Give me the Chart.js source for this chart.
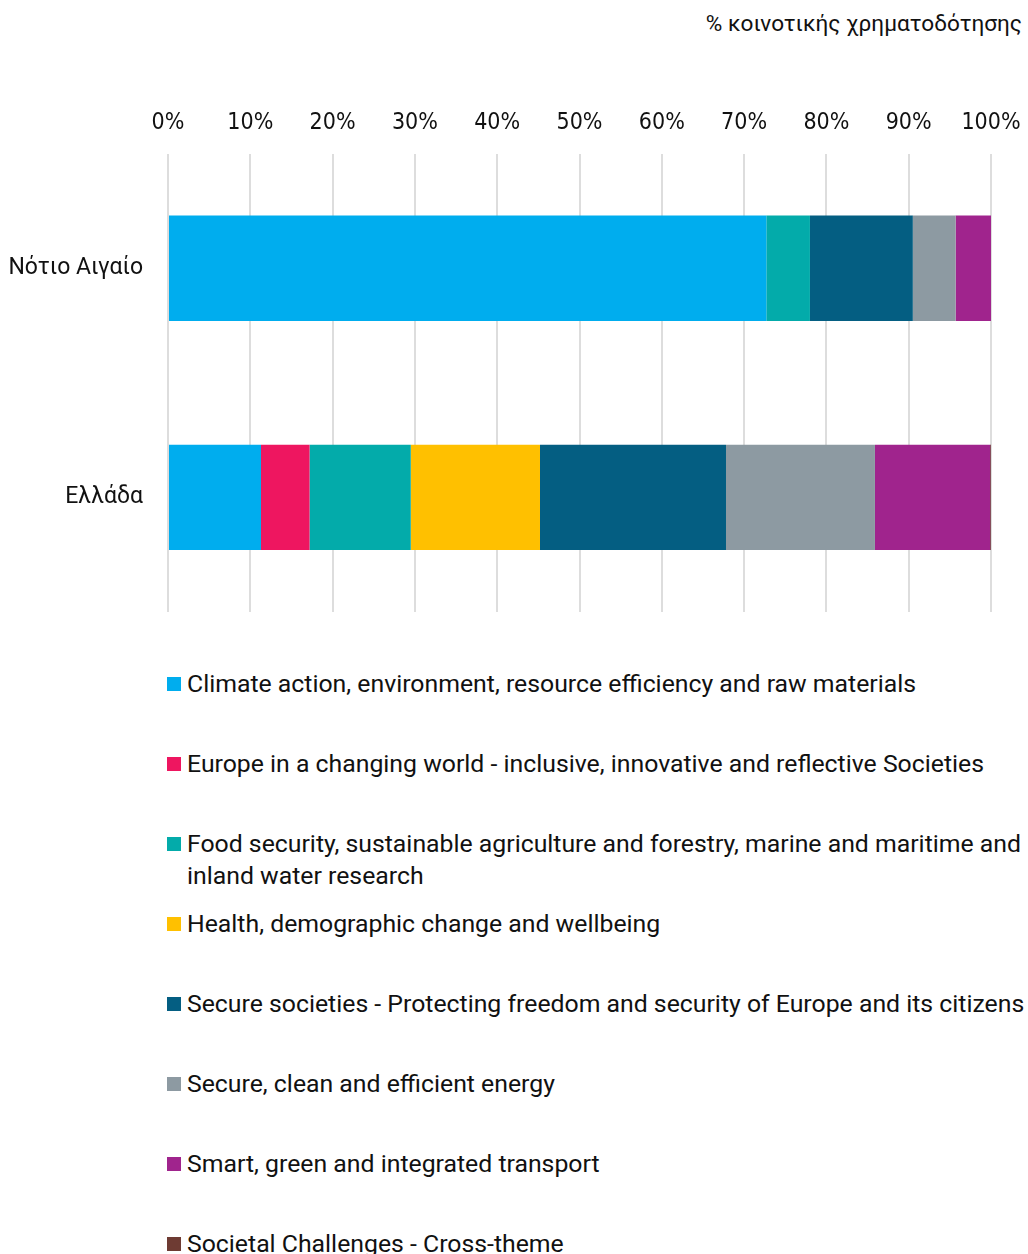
<!DOCTYPE html>
<html>
<head>
<meta charset="utf-8">
<script src="https://cdn.jsdelivr.net/npm/chart.js@4.4.1/dist/chart.umd.min.js"></script>
<style>
  body { margin:0; background:#fff; font-family: Roboto, sans-serif; color:#111; }
  #wrap { position:relative; width:1028px; height:1254px; overflow:hidden; }
  #axis-title { position:absolute; top:9px; right:6px; font-size:22.6px; line-height:30px; }
  #chart-box { position:absolute; left:0; top:0; width:1028px; height:640px; }
  #legend-container { position:absolute; left:167px; top:668px; width:861px; }
  .lg-item { display:flex; align-items:flex-start; height:80px; }
  .lg-box { width:14px; height:14px; margin-top:9px; margin-right:6px; flex:none; }
  .lg-text { font-size:24.8px; line-height:32px; }
</style>
</head>
<body>
<div id="wrap">
  <div id="axis-title">% κοινοτικής χρηματοδότησης</div>
  <div id="chart-box"><canvas id="myChart"></canvas></div>
  <div id="legend-container"></div>
</div>
<script>
// categories (top to bottom)
const regions = ["Νότιο Αιγαίο", "Ελλάδα"];

// share of funding per theme, % (Νότιο Αιγαίο, Ελλάδα)
const climate   = [72.7, 11.3];
const europe    = [0,     5.9];
const food      = [5.3,  12.3];
const health    = [0,    15.7];
const security  = [12.5, 22.6];
const energy    = [5.2,  18.1];
const transport = [4.3,  14.0];
const crossTheme = [0,    0.1];

const themeLabels = [
  "Climate action, environment, resource efficiency and raw materials",
  "Europe in a changing world - inclusive, innovative and reflective Societies",
  "Food security, sustainable agriculture and forestry, marine and maritime and inland water research",
  "Health, demographic change and wellbeing",
  "Secure societies - Protecting freedom and security of Europe and its citizens",
  "Secure, clean and efficient energy",
  "Smart, green and integrated transport",
  "Societal Challenges - Cross-theme"
];
const themeColors = ["#00ADEE", "#EE1660", "#03ABAA", "#FFC000", "#045E82", "#8D9AA2", "#A0248D", "#6E3B33"];
const themeData = [climate, europe, food, health, security, energy, transport, crossTheme];

const xTicks = [0, 10, 20, 30, 40, 50, 60, 70, 80, 90, 100];

const htmlLegendPlugin = {
  id: 'htmlLegend',
  afterUpdate(chart) {
    const box = document.getElementById('legend-container');
    box.innerHTML = '';
    chart.data.datasets.forEach(ds => {
      const item = document.createElement('div');
      item.className = 'lg-item';
      const sw = document.createElement('span');
      sw.className = 'lg-box';
      sw.style.background = ds.backgroundColor;
      const txt = document.createElement('span');
      txt.className = 'lg-text';
      txt.textContent = ds.label;
      item.appendChild(sw);
      item.appendChild(txt);
      box.appendChild(item);
    });
  }
};

// drop the extra room Chart.js keeps for tick labels, layout padding decides
function noLabelPadding(scale) {
  scale.paddingLeft = 0;
  scale.paddingRight = 0;
  scale.paddingTop = 0;
  scale.paddingBottom = 0;
}

function createChart(){
  new Chart("myChart", {
    type: "bar",
    data: {
      labels: regions,
      datasets: themeData.map((d, i) => ({
        label: themeLabels[i],
        data: d,
        backgroundColor: themeColors[i],
        borderWidth: 0,
        barPercentage: 0.46,
        categoryPercentage: 1
      }))
    },
    plugins: [htmlLegendPlugin],
    options: {
      indexAxis: 'y',
      responsive: true,
      maintainAspectRatio: false,
      animation: false,
      layout: { padding: { top: 92, right: 37, bottom: 28, left: 0 } },
      plugins: {
        legend: { display: false },
        tooltip: { enabled: false }
      },
      scales: {
        x: {
          position: 'top',
          stacked: true,
          min: 0,
          max: 100,
          afterBuildTicks: function (scale) {
            scale.ticks = xTicks.map(v => ({ value: v }));
          },
          afterFit: noLabelPadding,
          border: { display: false },
          grid: {
            color: '#dddddd',
            lineWidth: 2,
            drawTicks: false
          },
          ticks: {
            color: '#111',
            padding: 17,
            font: { family: "'Liberation Sans Narrow', 'DejaVu Sans Condensed', Roboto", size: 23 },
            callback: function (value) { return value + '%'; }
          }
        },
        y: {
          stacked: true,
          afterFit: function (scale) {
            noLabelPadding(scale);
            scale.width = 168;
          },
          border: { display: false },
          grid: { display: false, drawTicks: false },
          ticks: {
            color: '#111',
            padding: 25,
            font: { family: "Roboto", size: 23 }
          }
        }
      }
    }
  });
}
createChart();
</script>
</body>
</html>
